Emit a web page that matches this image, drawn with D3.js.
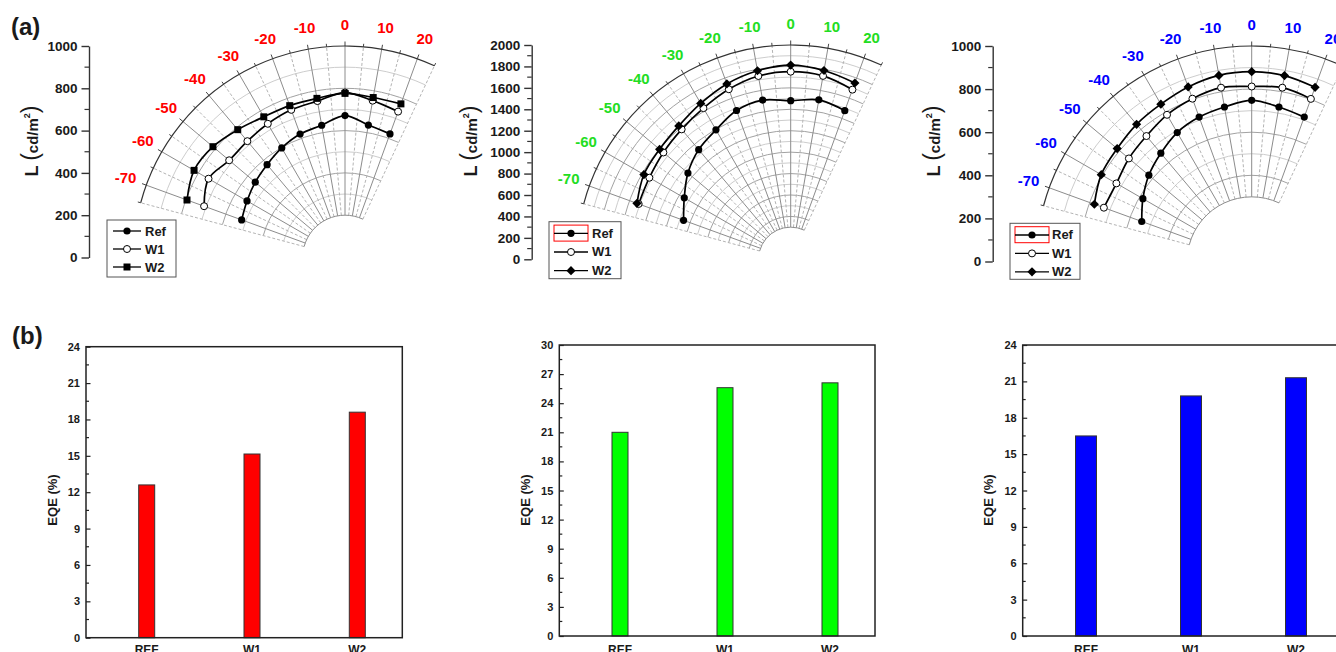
<!DOCTYPE html>
<html>
<head>
<meta charset="utf-8">
<script src="https://cdn.jsdelivr.net/npm/d3@7"></script>
<style>
body { margin: 0; background: #fff; }
svg { display: block; font-family: 'Liberation Sans', Arial, sans-serif; }
</style>
</head>
<body>
<svg id="fig" width="1336" height="652"></svg>
<script>
// emission angles (deg) of the measured points
var angles = [-70, -60, -50, -40, -30, -20, -10, 0, 10, 20];
var seriesNames = ["Ref", "W1", "W2"];

// luminance (cd/m2), one value per angle
var redRef = [520, 535, 554, 573, 598, 621, 635, 671, 636, 622];
var redW1  = [709, 745, 715, 718, 730, 743, 751, 780, 753, 734];
var redW2  = [795, 824, 815, 789, 768, 764, 764, 776, 768, 773];

var greenRef = [1064, 1147, 1252, 1336, 1395, 1478, 1509, 1480, 1511, 1476];
var greenW1  = [1510, 1523, 1551, 1583, 1629, 1689, 1737, 1751, 1738, 1685];
var greenW2  = [1527, 1582, 1597, 1625, 1680, 1742, 1787, 1813, 1789, 1751];

var blueRef = [543, 583, 623, 656, 691, 713, 728, 748, 728, 713];
var blueW1  = [730, 725, 744, 760, 786, 804, 819, 812, 819, 803];
var blueW2  = [777, 806, 815, 831, 843, 862, 877, 881, 876, 860];

// EQE (%) per device
var devices  = ["REF", "W1", "W2"];
var redEQE   = [12.6, 15.15, 18.6];
var greenEQE = [21.0, 25.6, 26.1];
var blueEQE  = [16.5, 19.8, 21.3];

// tick labels
var angleTicks   = [-70, -60, -50, -40, -30, -20, -10, 0, 10, 20];
var lumTicks1000 = [0, 200, 400, 600, 800, 1000];
var lumTicks2000 = [0, 200, 400, 600, 800, 1000, 1200, 1400, 1600, 1800, 2000];
var eqeTicks24   = [0, 3, 6, 9, 12, 15, 18, 21, 24];
var eqeTicks30   = [0, 3, 6, 9, 12, 15, 18, 21, 24, 27, 30];

var svg = d3.select("#fig");
var rad = Math.PI / 180;
var ink = "#1a1a1a";

// panel layout
var polarPanels = [
  { cx: 345, cy: 257.5, R: 211.5, max: 1000, hole: 200, axisX: 89, ylabX: 38,
    color: "#ff0000", ticks: lumTicks1000, data: [redRef, redW1, redW2], w2: "square",
    legend: { x: 107, y: 220, w: 69, h: 57, row0: 11, dy: 18, lx0: 6, lx1: 34, tx: 38 }, redBox: false },
  { cx: 790.7, cy: 259.3, R: 214.3, max: 2000, hole: 300, axisX: 531.7, ylabX: 477,
    color: "#22dd22", ticks: lumTicks2000, data: [greenRef, greenW1, greenW2], w2: "diamond",
    legend: { x: 549, y: 221.7, w: 72, h: 57, row0: 11.6, dy: 18.7, lx0: 5, lx1: 39, tx: 43 }, redBox: true },
  { cx: 1251.7, cy: 261.5, R: 215.5, max: 1000, hole: 300, axisX: 992.7, ylabX: 940,
    color: "#0000ff", ticks: lumTicks1000, data: [blueRef, blueW1, blueW2], w2: "diamond",
    legend: { x: 1010, y: 223.3, w: 70, h: 56, row0: 11.7, dy: 18.4, lx0: 5, lx1: 39, tx: 42 }, redBox: true }
];

var barPanels = [
  { x0: 86, x1: 402.3, y0: 346.7, y1: 637.7, max: 24, ticks: eqeTicks24, color: "#ff0000",
    values: redEQE, first: 60.7, last: 271.3, bw: 16, ylabX: 57 },
  { x0: 559.3, x1: 875, y0: 345, y1: 636, max: 30, ticks: eqeTicks30, color: "#00ff00",
    values: greenEQE, first: 60.7, last: 270.7, bw: 16, ylabX: 530 },
  { x0: 1022.7, x1: 1338.7, y0: 345, y1: 636, max: 24, ticks: eqeTicks24, color: "#0000ff",
    values: blueEQE, first: 63.3, last: 273.3, bw: 21, ylabX: 993 }
];

function polarXY(r, deg) {
  return [r * Math.sin(deg * rad), -r * Math.cos(deg * rad)];
}

// arc between two angles (0 = up, clockwise positive)
function arcPath(r, d0, d1) {
  var p = d3.path();
  var a0 = (d0 - 90) * rad, a1 = (d1 - 90) * rad;
  p.moveTo(r * Math.cos(a0), r * Math.sin(a0));
  p.arc(0, 0, r, a0, a1, false);
  return p.toString();
}

function drawMarker(g, kind, x, y) {
  if (kind === "dot") {
    g.append("circle").attr("cx", x).attr("cy", y).attr("r", 3.6).attr("fill", "#000");
  } else if (kind === "open") {
    g.append("circle").attr("cx", x).attr("cy", y).attr("r", 3.5)
      .attr("fill", "#fff").attr("stroke", "#000").attr("stroke-width", 1);
  } else if (kind === "square") {
    g.append("rect").attr("x", x - 3.5).attr("y", y - 3.5).attr("width", 7).attr("height", 7).attr("fill", "#000");
  } else {
    var h = 4.6;
    g.append("path").attr("d", "M" + x + "," + (y - h) + "L" + (x + h) + "," + y + "L" + x + "," + (y + h) + "L" + (x - h) + "," + y + "Z")
      .attr("fill", "#000");
  }
}

function drawPolar(p) {
  var r = d3.scaleLinear().domain([0, p.max]).range([0, p.R]);
  var c = svg.append("g").attr("transform", "translate(" + p.cx + "," + p.cy + ")");
  var a0 = -75, a1 = 25;

  // radial grid circles
  d3.range(p.hole + 100, p.max, 100).forEach(function(v) {
    var major = v % 200 === 0;
    c.append("path").attr("d", arcPath(r(v), a0, a1)).attr("fill", "none")
      .attr("stroke", major ? "#a2a2a2" : "#cdcdcd").attr("stroke-width", 1);
  });

  // rays
  d3.range(a0, a1 + 1, 5).forEach(function(d) {
    var solid = d % 10 === 0;
    var p0 = polarXY(r(p.hole), d), p1 = polarXY(r(p.max), d);
    c.append("line").attr("x1", p0[0]).attr("y1", p0[1]).attr("x2", p1[0]).attr("y2", p1[1])
      .attr("stroke", solid ? "#8c8c8c" : "#b4b4b4")
      .attr("stroke-dasharray", solid ? null : "3,2").attr("stroke-width", 1);
    var t0 = polarXY(r(p.max), d), t1 = polarXY(r(p.max) + (solid ? 4.5 : 3), d);
    c.append("line").attr("x1", t0[0]).attr("y1", t0[1]).attr("x2", t1[0]).attr("y2", t1[1])
      .attr("stroke", "#444").attr("stroke-width", 1);
  });

  // hole and outer arcs
  c.append("path").attr("d", arcPath(r(p.hole), a0, a1)).attr("fill", "none").attr("stroke", "#8c8c8c");
  c.append("path").attr("d", arcPath(r(p.max), a0, a1)).attr("fill", "none").attr("stroke", "#333").attr("stroke-width", 1.2);

  // angle labels
  c.selectAll(".alab").data(angleTicks).enter().append("text")
    .attr("x", function(d) { return polarXY(p.R + 22, d)[0]; })
    .attr("y", function(d) { return polarXY(p.R + 22, d)[1]; })
    .attr("text-anchor", "middle").attr("dominant-baseline", "central")
    .attr("font-size", 15).attr("font-weight", "bold").attr("fill", p.color)
    .text(function(d) { return d; });

  // series
  var line = d3.lineRadial()
    .angle(function(d) { return d[0] * rad; })
    .radius(function(d) { return r(d[1]); })
    .curve(d3.curveCatmullRom);
  var kinds = ["dot", "open", p.w2];
  p.data.forEach(function(vals) {
    var pts = angles.map(function(a, i) { return [a, vals[i]]; });
    c.append("path").attr("d", line(pts)).attr("fill", "none").attr("stroke", "#000").attr("stroke-width", 1.7);
  });
  p.data.forEach(function(vals, k) {
    angles.forEach(function(a, i) {
      var xy = polarXY(r(vals[i]), a);
      drawMarker(c, kinds[k], xy[0], xy[1]);
    });
  });

  // left luminance axis
  var y = d3.scaleLinear().domain([0, p.max]).range([p.cy, p.cy - p.R]);
  var ax = svg.append("g").attr("transform", "translate(" + p.axisX + ",0)")
    .call(d3.axisLeft(y).tickValues(p.ticks).tickFormat(d3.format("d"))
      .tickSizeInner(7.5).tickSizeOuter(0).tickPadding(4));
  ax.selectAll("text").attr("font-size", 13.5).attr("font-weight", "bold").attr("fill", ink)
    .attr("font-family", "'Liberation Sans', Arial, sans-serif");
  ax.selectAll("line, path").attr("stroke", "#333").attr("stroke-width", 1.4);
  ax.selectAll(".minor").data(d3.range(100, p.max, 200)).enter().append("line")
    .attr("x1", -4.5).attr("x2", 0).attr("y1", function(d) { return y(d); }).attr("y2", function(d) { return y(d); })
    .attr("stroke", "#333").attr("stroke-width", 1.2);

  var t = svg.append("text")
    .attr("transform", "translate(" + p.ylabX + ",141) rotate(-90)")
    .attr("text-anchor", "middle").attr("font-weight", "bold").attr("fill", ink);
  t.append("tspan").attr("font-size", 18).text("L ");
  t.append("tspan").attr("font-size", 23).attr("font-weight", "normal").text("(");
  t.append("tspan").attr("font-size", 15).text("cd/m");
  t.append("tspan").attr("font-size", 9).attr("dy", -8).text("2");
  t.append("tspan").attr("font-size", 23).attr("font-weight", "normal").attr("dy", 8).text(")");

  // legend
  var L = p.legend;
  var lg = svg.append("g").attr("transform", "translate(" + L.x + "," + L.y + ")");
  lg.append("rect").attr("width", L.w).attr("height", L.h).attr("fill", "#fff").attr("stroke", "#555");
  if (p.redBox) {
    lg.append("rect").attr("x", 5).attr("y", 3.4).attr("width", 34).attr("height", 16)
      .attr("fill", "none").attr("stroke", "#ff0000");
  }
  seriesNames.forEach(function(name, i) {
    var yy = L.row0 + i * L.dy;
    lg.append("line").attr("x1", L.lx0).attr("x2", L.lx1).attr("y1", yy).attr("y2", yy)
      .attr("stroke", "#000").attr("stroke-width", 1.3);
    drawMarker(lg, kinds[i], (L.lx0 + L.lx1) / 2, yy);
    lg.append("text").attr("x", L.tx).attr("y", yy).attr("dominant-baseline", "central")
      .attr("font-size", 13).attr("font-weight", "bold").attr("fill", ink).text(name);
  });
}

function drawBars(b) {
  var y = d3.scaleLinear().domain([0, b.max]).range([b.y1, b.y0]);
  var x = d3.scalePoint().domain(devices).range([b.x0 + b.first, b.x0 + b.last]);
  var g = svg.append("g");

  g.selectAll(".bar").data(b.values).enter().append("rect")
    .attr("x", function(d, i) { return x(devices[i]) - b.bw / 2; })
    .attr("y", function(d) { return y(d); })
    .attr("width", b.bw)
    .attr("height", function(d) { return y(0) - y(d); })
    .attr("fill", b.color).attr("stroke", "#333").attr("stroke-width", 1);

  g.append("rect").attr("x", b.x0).attr("y", b.y0).attr("width", b.x1 - b.x0).attr("height", b.y1 - b.y0)
    .attr("fill", "none").attr("stroke", "#222").attr("stroke-width", 1.5);

  var ax = g.append("g").attr("transform", "translate(" + b.x0 + ",0)")
    .call(d3.axisLeft(y).tickValues(b.ticks).tickSizeInner(-4.5).tickSizeOuter(0).tickPadding(6));
  ax.select(".domain").remove();
  ax.selectAll("line").attr("stroke", "#222").attr("stroke-width", 1.2);
  ax.selectAll("text").attr("font-size", 11).attr("font-weight", "bold").attr("fill", ink)
    .attr("font-family", "'Liberation Sans', Arial, sans-serif");
  ax.selectAll(".minor").data(d3.range(1.5, b.max, 3)).enter().append("line")
    .attr("x1", 0).attr("x2", 3).attr("y1", function(d) { return y(d); }).attr("y2", function(d) { return y(d); })
    .attr("stroke", "#222").attr("stroke-width", 1.2);

  // category labels sit partly below the picture edge, as in the original
  g.selectAll(".xl").data(devices).enter().append("text")
    .attr("x", function(d) { return x(d); }).attr("y", 654)
    .attr("text-anchor", "middle").attr("font-size", 12).attr("font-weight", "bold").attr("fill", ink)
    .text(function(d) { return d; });

  g.append("text").attr("transform", "translate(" + b.ylabX + ",500) rotate(-90)")
    .attr("text-anchor", "middle").attr("font-size", 13).attr("font-weight", "bold").attr("fill", ink)
    .text("EQE (%)");
}

polarPanels.forEach(drawPolar);
barPanels.forEach(drawBars);

// panel letters
svg.append("text").attr("x", 11).attr("y", 35).attr("font-size", 24).attr("font-weight", "bold").attr("fill", ink).text("(a)");
svg.append("text").attr("x", 12).attr("y", 344).attr("font-size", 24).attr("font-weight", "bold").attr("fill", ink).text("(b)");
</script>
</body>
</html>
